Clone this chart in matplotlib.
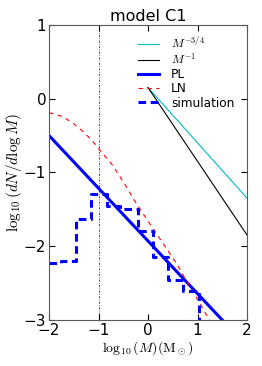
import matplotlib
matplotlib.use("Agg")
import matplotlib.pyplot as plt
import numpy as np

plt.rcParams['mathtext.fontset'] = 'cm'
plt.rcParams['font.family'] = ['DejaVu Sans']

# power-law guide lines
guide_x = [0.0, 2.0]
guide_34_y = [0.15, -1.35]
guide_1_y = [0.15, -1.85]

# PL fit
pl_x = [-2.0, 2.0]
pl_y = [-0.50, -3.36]

# LN fit, points
ln_x = [-2.0, -1.74, -1.54, -1.34, -1.14, -0.97, -0.73, -0.46, -0.23, 0.04,
        0.31, 0.58, 0.81, 1.05, 1.22, 1.40]
ln_y = [-0.19, -0.24, -0.32, -0.43, -0.56, -0.70, -0.89, -1.17, -1.43, -1.70,
        -1.97, -2.24, -2.51, -2.78, -2.98, -3.20]

# simulation histogram (bin edges and values)
sim_edges = [-2.0, -1.76, -1.46, -1.15, -0.83, -0.57, -0.20, 0.11, 0.40, 0.71, 1.03]
sim_vals = [-2.23, -2.20, -1.63, -1.29, -1.45, -1.50, -1.79, -2.15, -2.46, -2.61]

fig = plt.figure(figsize=(2.62, 3.66), dpi=100)
ax = fig.add_axes([0.187, 0.126, 0.756, 0.806])

ax.axvline(-1, color='k', ls='-.', lw=0.5, dashes=(3, 2, 1, 2))
ax.plot(guide_x, guide_34_y, color='c', lw=0.8, label=r'$M^{-3/4}$')
ax.plot(guide_x, guide_1_y, color='k', lw=0.8, label=r'$M^{-1}$')
ax.plot(pl_x, pl_y, color='b', lw=2.2, label='PL')
ax.plot(ln_x, ln_y, color='r', ls='--', lw=0.8, dashes=(4, 4), label='LN')
ax.step(sim_edges, sim_vals + [-4.0], where='post', color='b', ls='--',
        lw=2.2, dashes=(2.5, 1.5), label='simulation')

ax.set_xlim(-2, 2)
ax.set_ylim(-3, 1)
ax.set_xticks([-2, -1, 0, 1, 2])
ax.set_yticks([-3, -2, -1, 0, 1])
ax.tick_params(direction='in', top=True, right=True, labelsize=11, length=4, pad=2)
for s in ax.spines.values():
    s.set_color('0.35')

ax.set_title('model C1', fontsize=11.5, pad=3)
ax.set_xlabel(r'$\log_{10}(M)(\mathrm{M}_\odot)$', fontsize=10, labelpad=1)
ax.set_ylabel(r'$\log_{10}(dN/d\log M)$', fontsize=11, labelpad=0)

ax.legend(loc='upper right', bbox_to_anchor=(0.985, 1.0), frameon=False, fontsize=8.7,
          handlelength=1.7, handletextpad=1.0, labelspacing=0.1, borderpad=0.3)

fig.savefig('out.png', dpi=100)
